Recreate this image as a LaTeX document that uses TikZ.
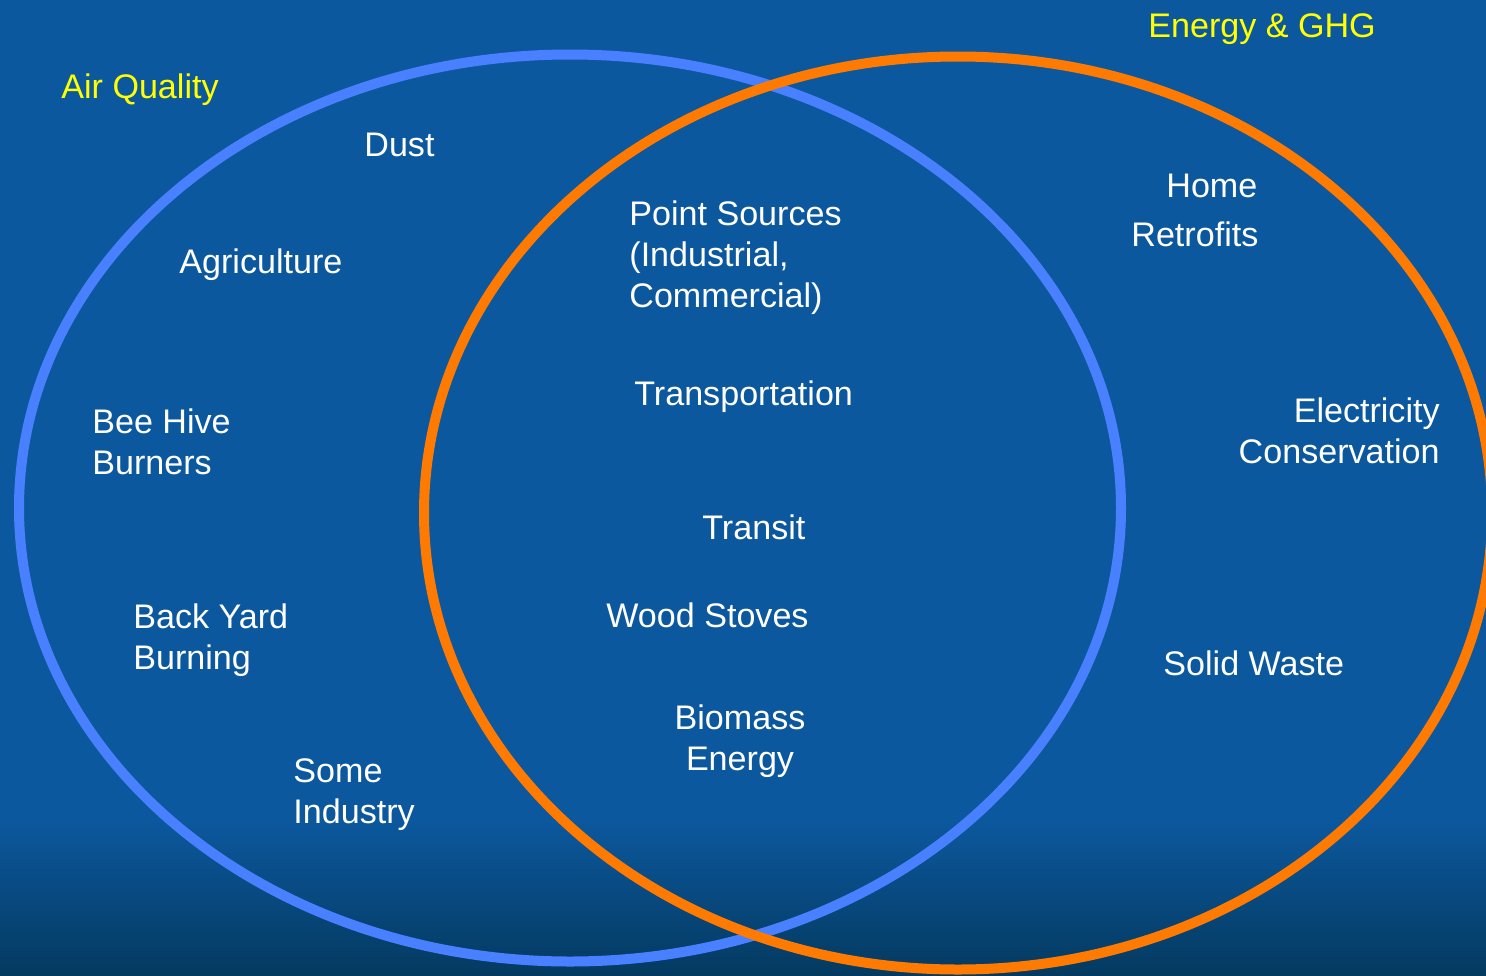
\documentclass[tikz,border=0pt]{standalone}
\usepackage{fontspec}
\setmainfont{Liberation Sans}
\usepackage{tikz}
\usetikzlibrary{shapes.geometric}
\definecolor{seablue}{RGB}{12,88,158}
\definecolor{deepsea}{RGB}{4,58,96}
\definecolor{ringblue}{RGB}{72,128,255}
\definecolor{ringorange}{RGB}{255,122,0}
\definecolor{titleyellow}{RGB}{255,255,0}

\begin{document}
\begin{tikzpicture}[
    x=0.1mm,
    y=-0.1mm,
    thick
]


\tikzstyle{ring}=[
    ellipse,
    draw,
    line width=1mm,
    inner sep=0pt,
    outer sep=0pt
]
\tikzstyle{item}=[
    text=white,
    inner sep=0pt,
    font=\fontsize{9.7}{11.65}\selectfont,
    align=left
]
\tikzstyle{heading}=[item, text=titleyellow]


\clip (0,0) rectangle (1486,975);
\fill[seablue] (0,0) rectangle (1486,820);
\shade[top color=seablue, bottom color=deepsea] (0,819) rectangle (1486,975);


\node[ring, draw=ringblue, minimum width=110.2mm, minimum height=90.7mm] (aq) at (570,508) {};
\node[ring, draw=ringorange, minimum width=106.8mm, minimum height=91.3mm] (ghg) at (958,513) {};


\node[heading, anchor=base west] (aqtitle) at (60,99) {Air Quality};
\node[heading, anchor=base west] (ghgtitle) at (1147,38) {Energy \& GHG};


\node[item, anchor=base west] (dust) at (363,156) {Dust};
\node[item, anchor=base west] (agri) at (178,273) {Agriculture};
\node[item, anchor=base west] (hive) at (91,474) {Bee Hive\\Burners};
\node[item, anchor=base west] (yard) at (132,669) {Back Yard\\Burning};
\node[item, anchor=base west] (industry) at (292,823) {Some\\Industry};


\node[item, anchor=base west] (point) at (628,307) {Point Sources\\(Industrial,\\Commercial)};
\node[item, anchor=base west] (transport) at (633,405) {Transportation};
\node[item, anchor=base west] (transit) at (701,539) {Transit};
\node[item, anchor=base west] (stoves) at (605,627) {Wood Stoves};
\node[item, anchor=base, align=center] (biomass) at (740,770) {Biomass\\Energy};


\node[item, anchor=base west] (home) at (1165,198) {Home};
\node[item, anchor=base west] (retrofit) at (1130,247) {Retrofits};
\node[item, anchor=base east, align=right] (power) at (1441,463) {Electricity\\Conservation};
\node[item, anchor=base west] (waste) at (1162,675) {Solid Waste};

\end{tikzpicture}
\end{document}
